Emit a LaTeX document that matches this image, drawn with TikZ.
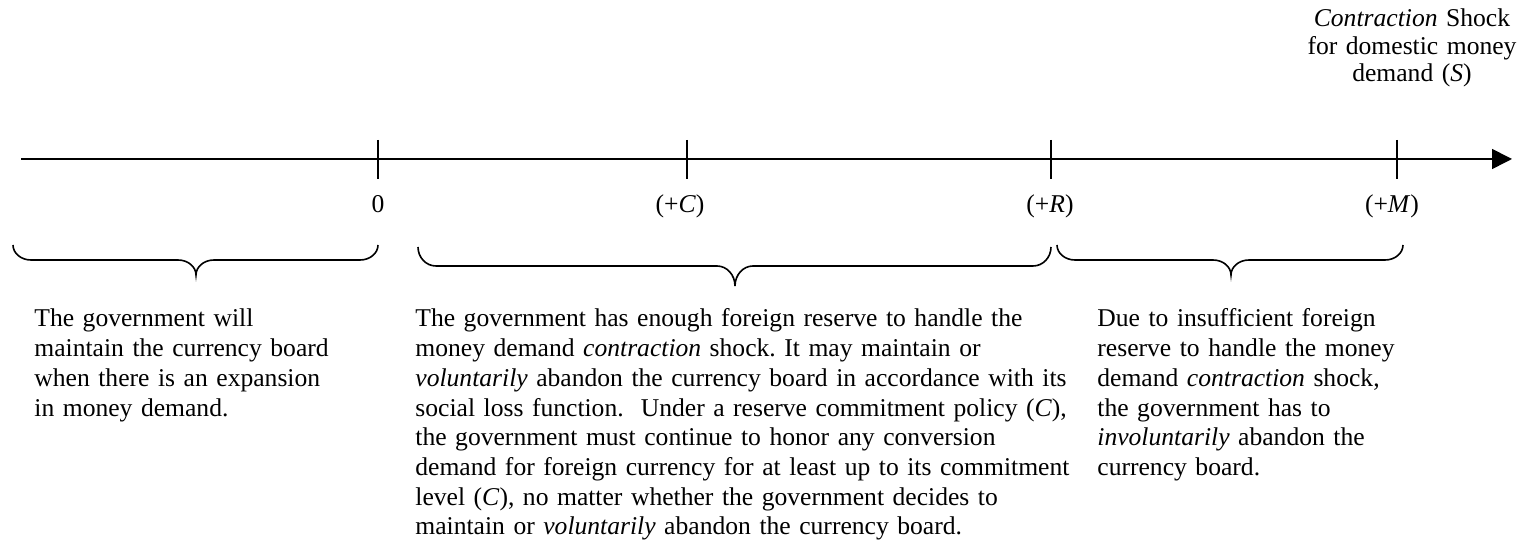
\documentclass[tikz,border=0pt]{standalone}
\usepackage{fontspec}
\setmainfont{Liberation Serif}
\usetikzlibrary{arrows.meta}
\frenchspacing
\newcommand\mybrace[6]{%
\draw[bracestyle] (#1,#4) .. controls (#1,{#4+0.55*(#5-#4)}) and ({#1+8},#5) .. ({#1+18},#5)
 -- ({#3-18},#5) .. controls ({#3-8},#5) and (#3,{#5+0.45*(#6-#5)}) .. (#3,#6)
 .. controls (#3,{#5+0.45*(#6-#5)}) and ({#3+8},#5) .. ({#3+18},#5)
 -- ({#2-18},#5) .. controls ({#2-8},#5) and (#2,{#4+0.55*(#5-#4)}) .. (#2,#4);}
\tikzset{
  axisline/.style={line width=0.8pt, -{Triangle[length=10pt,width=10pt]}},
  tickmark/.style={line width=0.8pt},
  bracestyle/.style={line width=0.8pt},
  ticklabel/.style={anchor=base, inner sep=0pt, font=\fontsize{12.8pt}{15pt}\selectfont},
  bodytext/.style={anchor=base west, inner sep=0pt, align=left, font=\fontsize{12.8pt}{14.85pt}\selectfont},
}
\begin{document}
\begin{tikzpicture}[x=0.5pt,y=-0.5pt]
\useasboundingbox (0,0) rectangle (1528,549);
% axis
\coordinate (start) at (21,159);
\coordinate (end) at (1512,159);
\draw[axisline] (start) -- (end);
% ticks
\foreach \n/\x in {t0/378, tC/687, tR/1051, tM/1397}{
  \coordinate (\n) at (\x,159);
  \draw[tickmark] (\x,140) -- (\x,179);
}
\node[ticklabel] (l0) at (378,213) {0};
\node[ticklabel] (lC) at (680,213) {(+\emph{C})};
\node[ticklabel] (lR) at (1050,213) {(+\emph{R})};
\node[ticklabel] (lM) at (1392,213) {(+\emph{M})};
% braces
\mybrace{13}{378}{196}{245}{260}{275}
\mybrace{418}{1051}{735}{247}{266}{286}
\mybrace{1057}{1403}{1231}{245}{260}{275}
% title
\node[anchor=base, inner sep=0pt, text width=140pt, align=center, font=\fontsize{12.8pt}{13.75pt}\selectfont] (title) at (1412,27)
 {\emph{Contraction} Shock\\for domestic money\\demand (\emph{S})};
% texts
\node[bodytext, text width=200pt] (left) at (34,327)
 {The government will\\maintain the currency board\\when there is an expansion\\in money demand.};
\node[bodytext, text width=400pt] (mid) at (415,327)
 {The government has enough foreign reserve to handle the\\
  money demand \emph{contraction} shock. It may maintain or\\
  \emph{voluntarily} abandon the currency board in accordance with its\\
  social loss function.\ \ Under a reserve commitment policy (\emph{C}),\\
  the government must continue to honor any conversion\\
  demand for foreign currency for at least up to its commitment\\
  level (\emph{C}), no matter whether the government decides to\\
  maintain or \emph{voluntarily} abandon the currency board.};
\node[bodytext, text width=200pt] (right) at (1097,327)
 {Due to insufficient foreign\\reserve to handle the money\\demand \emph{contraction} shock,\\the government has to\\\emph{involuntarily} abandon the\\currency board.};
\end{tikzpicture}
\end{document}
